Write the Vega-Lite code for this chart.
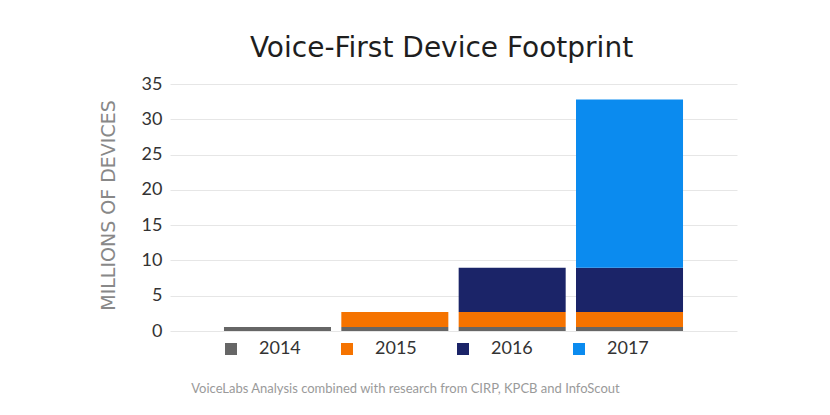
{
  "$schema": "https://vega.github.io/schema/vega-lite/v6.json",
  "width": 567,
  "height": 247,
  "autosize": "none",
  "padding": {"left": 170, "top": 84, "right": 93, "bottom": 84},
  "background": "white",
  "config": {
    "font": "Lato",
    "view": {"stroke": null}
  },
  "title": {
    "text": "Voice-First Device Footprint",
    "font": "DejaVu Sans",
    "fontSize": 28,
    "fontWeight": "normal",
    "color": "#1e1e1e",
    "anchor": "middle",
    "dx": -12,
    "offset": 12
  },
  "data": {
    "values": [
      {"bar": "2014", "series": "2014", "value": 0.55},
      {"bar": "2015", "series": "2014", "value": 0.55},
      {"bar": "2015", "series": "2015", "value": 2.15},
      {"bar": "2016", "series": "2014", "value": 0.55},
      {"bar": "2016", "series": "2015", "value": 2.15},
      {"bar": "2016", "series": "2016", "value": 6.25},
      {"bar": "2017", "series": "2014", "value": 0.55},
      {"bar": "2017", "series": "2015", "value": 2.15},
      {"bar": "2017", "series": "2016", "value": 6.25},
      {"bar": "2017", "series": "2017", "value": 23.85}
    ]
  },
  "mark": {"type": "bar"},
  "encoding": {
    "x": {
      "field": "bar",
      "type": "ordinal",
      "scale": {"paddingInner": 0.088, "paddingOuter": 0.46},
      "axis": {
        "labels": false,
        "ticks": false,
        "domain": false,
        "title": "VoiceLabs Analysis combined with research from CIRP, KPCB and InfoScout",
        "titleFontSize": 13,
        "titleFontWeight": "normal",
        "titleColor": "#9a9a9a",
        "titleX": 235,
        "titleY": 61,
        "titleBaseline": "alphabetic",
        "titleAlign": "center"
      }
    },
    "y": {
      "field": "value",
      "type": "quantitative",
      "stack": "zero",
      "scale": {"domain": [0, 35]},
      "axis": {
        "values": [0, 5, 10, 15, 20, 25, 30, 35],
        "ticks": false,
        "domain": false,
        "labelFontSize": 18,
        "labelColor": "#333333",
        "labelPadding": 8,
        "gridColor": "#e6e6e6",
        "title": "MILLIONS OF DEVICES",
        "titleFont": "DejaVu Sans",
        "titleFontSize": 19,
        "titleFontWeight": "normal",
        "titleColor": "#888888",
        "titleAngle": 270,
        "titleX": -62,
        "titleY": 121,
        "titleAlign": "center",
        "titleBaseline": "middle"
      }
    },
    "color": {
      "field": "series",
      "type": "nominal",
      "scale": {
        "domain": ["2014", "2015", "2016", "2017"],
        "range": ["#666666", "#f57300", "#1b2468", "#0b8bef"]
      },
      "legend": {
        "title": null,
        "orient": "none",
        "direction": "horizontal",
        "legendX": 52,
        "legendY": 256,
        "padding": 0,
        "symbolType": "square",
        "symbolSize": 144,
        "symbolStrokeWidth": 0,
        "labelFontSize": 18,
        "labelColor": "#333333",
        "labelOffset": 19,
        "columnPadding": 37,
        "gridAlign": "all"
      }
    },
    "order": {"field": "series", "type": "ordinal", "sort": "ascending"}
  }
}
